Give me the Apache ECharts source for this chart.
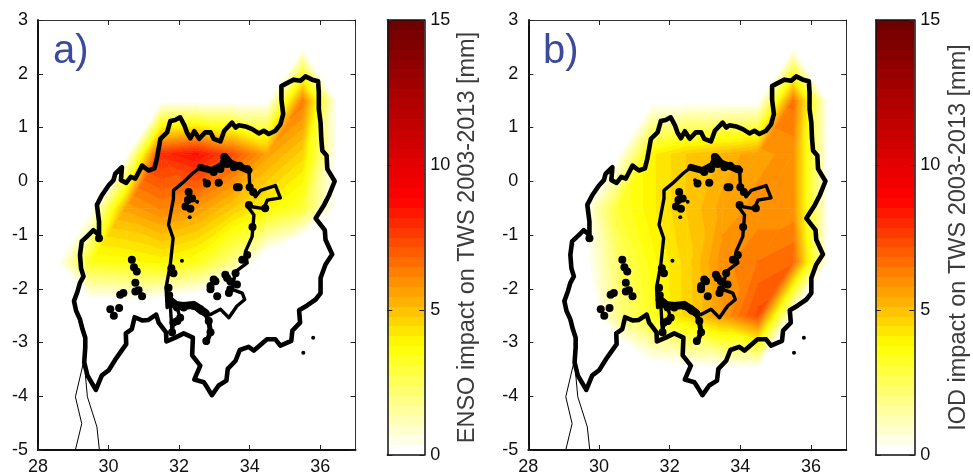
<!DOCTYPE html>
<html>
<head>
<meta charset="utf-8">
<style>html,body{margin:0;padding:0;background:#fff}#c{width:973px;height:476px}</style>
<script src="https://cdn.jsdelivr.net/npm/echarts@6/dist/echarts.min.js"></script>
</head>
<body>
<div id="c"></div>
<script>
// grid-cell centres of the fields
const lons = [28.5,29.5,30.5,31.5,32.5,33.5,34.5,35.5,36.5];
const lats = [2.5,1.5,0.5,-0.5,-1.5,-2.5,-3.5,-4.5];
// rows follow lats, columns follow lons (mm). Values below zero lie off the colour scale.
const ensoImpact = [
 [0,0,0,0,0,0,0,0,0],
 [0,0,0,0,0,0,0,6.4,0],
 [0,0,0,8,8.6,7.3,5.6,4.6,0],
 [0,0,5.6,6.2,5.8,4.8,3.9,3,0],
 [0,3.4,3.6,3.9,3.4,1.9,-0.8,-2.5,-1],
 [0,-1.2,-1.2,-1.7,-2,-2.5,-2.5,-2,-1],
 [0,0,0,0,0,0,0,0,0],
 [0,0,0,0,0,0,0,0,0]
];
const iodImpact = [
 [0,0,0,0,0,0,0,0,0],
 [0,0,0,0,0,0,0,6.6,0],
 [0,0,0,4,4.8,5.2,5.7,5.9,0],
 [0,0,3,4,4.8,5.6,5.9,5.9,0],
 [0,-0.3,2.2,3.6,4.6,6,6.5,6.8,0],
 [0,-1.4,1.8,3.3,4.6,5.8,7.3,0,0],
 [0,0,-2,-0.3,0,0,0,0,0],
 [0,0,0,0,0,0,0,0,0]
];
const basinOutline = [[29.64,-3.88],[29.4,-3.61],[29.31,-3.37],[29.34,-3.09],[29.34,-2.91],[29.26,-2.75],[29.19,-2.57],[29.08,-2.41],[29.02,-2.23],[29.12,-2.05],[29.19,-1.89],[29.29,-1.77],[29.22,-1.62],[29.19,-1.37],[29.24,-1.12],[29.4,-1.02],[29.57,-0.91],[29.73,-1],[29.73,-0.75],[29.67,-0.44],[29.81,-0.26],[30,-0.08],[30.14,0.02],[30.19,0.14],[30.38,0.26],[30.35,0.02],[30.5,-0.03],[30.63,0.08],[30.76,0.05],[30.95,0.29],[31.13,0.2],[31.3,0.24],[31.37,0.42],[31.47,0.79],[31.66,0.91],[31.75,1.12],[31.89,1.14],[32.03,1.19],[32.15,1.04],[32.22,0.91],[32.32,0.8],[32.43,0.93],[32.57,0.79],[32.74,0.91],[32.89,0.91],[32.98,0.79],[33.17,0.74],[33.28,0.94],[33.5,1.09],[33.6,1],[33.69,1.04],[33.88,1.02],[34.07,0.97],[34.26,0.89],[34.4,0.94],[34.54,0.88],[34.73,0.94],[34.87,1.06],[34.95,1.25],[34.9,1.52],[34.9,1.77],[35.07,1.83],[35.25,1.89],[35.44,1.87],[35.58,1.95],[35.77,1.89],[35.94,1.86],[35.96,1.65],[35.96,1.34],[36.01,1.09],[36.03,0.79],[36.06,0.57],[36.18,0.48],[36.2,0.23],[36.41,0],[36.25,-0.26],[36.11,-0.44],[35.87,-0.69],[36.13,-0.91],[36.15,-1.09],[36.34,-1.36],[36.15,-1.55],[36.01,-1.8],[36.01,-2.08],[35.87,-2.2],[35.63,-2.31],[35.4,-2.4],[35.43,-2.63],[35.21,-2.78],[35.18,-2.97],[34.87,-3.06],[34.73,-2.94],[34.49,-2.94],[34.31,-3.04],[34.12,-3.15],[33.97,-3.08],[33.72,-3.14],[33.6,-3.34],[33.38,-3.49],[33.34,-3.71],[33.12,-3.8],[32.93,-3.98],[32.79,-3.83],[32.7,-3.74],[32.43,-3.69],[32.6,-3.43],[32.37,-3.24],[32.39,-2.91],[32.13,-2.83],[31.89,-2.91],[31.64,-2.98],[31.63,-2.81],[31.42,-2.63],[31.35,-2.48],[31.13,-2.58],[30.95,-2.59],[30.74,-2.53],[30.66,-2.75],[30.49,-2.83],[30.5,-3.03],[30.23,-3.28],[30,-3.52],[29.81,-3.61],[29.64,-3.88]];
const lakeOutline = [[31.84,-0.17],[32.08,-0.04],[32.37,0.14],[32.6,0.26],[32.93,0.2],[33.22,0.32],[33.31,0.48],[33.45,0.36],[33.73,0.29],[33.98,0.23],[34,-0.08],[34.16,-0.29],[34.31,-0.17],[34.73,-0.08],[34.87,-0.31],[34.5,-0.35],[34.4,-0.51],[33.93,-0.46],[34.12,-0.63],[34.07,-1.03],[33.88,-1.31],[33.93,-1.52],[33.6,-1.68],[33.5,-2.01],[33.79,-2.08],[33.86,-2.2],[33.64,-2.32],[33.41,-2.54],[33.17,-2.38],[32.89,-2.48],[32.6,-2.45],[32.41,-2.32],[32.13,-2.35],[31.94,-2.35],[32.03,-2.54],[31.84,-2.63],[31.8,-2.85],[31.75,-2.29],[31.66,-2.35],[31.63,-1.98],[31.75,-1.55],[31.83,-1.06],[31.7,-0.81],[31.84,-0.32],[31.84,-0.17]];
const northShore = [[32.6,0.26],[32.93,0.2],[33.22,0.3],[33.31,0.45],[33.45,0.34],[33.73,0.27],[33.98,0.2]];
const southShore = [[31.72,-2.2],[31.9,-2.3],[32.13,-2.32],[32.41,-2.3],[32.6,-2.38],[32.75,-2.45]];
const gulfOutline = [[32.72,-2.42],[32.84,-2.6],[32.89,-2.81],[32.77,-3.0]];
const thinBorderA = [[29.29,-3.37],[29.06,-4.01],[29.24,-4.51],[29.06,-5]];
const thinBorderB = [[29.34,-3.58],[29.4,-4.01],[29.67,-4.57],[29.74,-5]];
const bigIslands = [[32.98,0.17],[33.17,0.23],[33.28,0.45],[33.36,0.32],[33.55,0.26],[33.12,-0.03],[32.79,-0.04],[33.69,-0.11],[32.27,-0.2],[32.37,-0.32],[32.18,-0.47],[32.32,-0.51],[32.25,-0.35],[33.71,0.29],[33.93,0.23],[33.64,-0.11],[34,-0.11],[34.1,-0.2],[34.44,-0.5],[33.98,-0.44],[34.08,-0.85],[33.93,-1.37],[33.79,-1.46],[33.6,-1.71],[31.84,-1.71],[31.78,-1.62],[31.7,-1.98],[31.75,-2.29],[31.72,-2.12],[31.94,-2.35],[32.13,-2.35],[31.84,-2.63],[32.03,-2.54],[31.8,-2.81],[31.95,-2.6],[32.41,-2.32],[32.6,-2.38],[32.84,-2.6],[32.89,-2.81],[32.77,-2.97],[32.98,-1.83],[33.03,-1.86],[32.89,-2.01],[32.89,-1.95],[33.08,-2.14],[33.36,-1.8],[33.31,-1.74],[33.45,-2.01],[33.41,-2.08],[33.45,-1.86],[33.64,-1.92],[30.66,-1.46],[30.8,-1.68],[30.72,-1.6],[30.76,-1.89],[30.76,-2.05],[30.85,-2.03],[30.95,-2.14],[30.33,-2.11],[30.42,-2.08],[30.3,-2.36],[30.05,-2.38],[30.15,-2.5],[29.73,-1.06]];
const smallIslands = [[32.51,-0.38],[32.3,-0.67],[32.72,0.02],[32.08,-1.48],[35.8,-2.91],[35.52,-3.19],[33.18,-0.03]];
// reversed "hot" colour scale
const scaleStops = [[0,[255,255,255]],[0.245,[255,255,0]],[0.59,[255,0,0]],[1,[112,0,0]]];
const bandCount = 44, scaleMax = 15;

function bandColor(i){
  const t = i/(bandCount-1);
  for(let k=1;k<scaleStops.length;k++){
    if(t<=scaleStops[k][0]){
      const a=scaleStops[k-1],b=scaleStops[k],f=(t-a[0])/(b[0]-a[0]);
      const c=a[1].map((v,j)=>Math.round(v+(b[1][j]-v)*f));
      return 'rgb('+c.join(',')+')';
    }
  }
  return 'rgb(112,0,0)';
}
const bandW = scaleMax/bandCount;
const bands = [];
for(let i=0;i<bandCount;i++) bands.push([i*bandW,(i+1)*bandW,i]);

// triangles of the gridded field
function triangles(rows){
  const out=[];
  for(let r=0;r<lats.length-1;r++)for(let c=0;c<lons.length-1;c++){
    const A=[lons[c],lats[r],rows[r][c]],B=[lons[c+1],lats[r],rows[r][c+1]],
          C=[lons[c],lats[r+1],rows[r+1][c]],D=[lons[c+1],lats[r+1],rows[r+1][c+1]];
    if(Math.abs(A[2]-D[2])<=Math.abs(B[2]-C[2])){
      out.push([...A,...B,...D]);out.push([...A,...C,...D]);
    }else{
      out.push([...B,...A,...C]);out.push([...B,...D,...C]);
    }
  }
  return out;
}
function clipBand(poly,level,keepAbove){
  const res=[];
  for(let i=0;i<poly.length;i++){
    const p=poly[i],q=poly[(i+1)%poly.length];
    const pin=keepAbove?p[2]>=level:p[2]<=level, qin=keepAbove?q[2]>=level:q[2]<=level;
    if(pin)res.push(p);
    if(pin!==qin){
      const f=(level-p[2])/(q[2]-p[2]);
      res.push([p[0]+(q[0]-p[0])*f,p[1]+(q[1]-p[1])*f,level]);
    }
  }
  return res;
}
function renderTriangle(params,api){
  const tri=[[api.value(0),api.value(1),api.value(2)],[api.value(3),api.value(4),api.value(5)],[api.value(6),api.value(7),api.value(8)]];
  const children=[];
  for(let i=1;i<bandCount;i++){
    let poly=clipBand(tri,bands[i][0],true);
    if(poly.length<3)continue;
    if(i<bandCount-1)poly=clipBand(poly,bands[i][1],false);
    if(poly.length<3)continue;
    const col=bandColor(i);
    children.push({type:'polygon',shape:{points:poly.map(p=>api.coord([p[0],p[1]]))},
      style:{fill:col,stroke:col,lineWidth:0.6}});
  }
  return {type:'group',children};
}
function renderBand(params,api){
  const a=api.coord([0,api.value(0)]),b=api.coord([1,api.value(1)]);
  const y0=Math.round(b[1]),y1=Math.round(a[1]);
  return {type:'rect',shape:{x:a[0],y:y0,width:b[0]-a[0],height:y1-y0},style:{fill:bandColor(api.value(2))}};
}

const font='"Liberation Sans", Arial, sans-serif';
const strong={onZero:false,lineStyle:{color:'#111',width:2}};
const weak={onZero:false,lineStyle:{color:'#333',width:1}};
const tick={inside:true,length:5,lineStyle:{color:'#222',width:1}};
const grids=[],xAxes=[],yAxes=[],series=[];

function addMap(left,width,rows){
  const g=grids.length;
  grids.push({left,top:20,width,height:434});
  const xi=xAxes.length,yi=yAxes.length;
  const xBase={type:'value',gridIndex:g,min:28,max:37,interval:2,splitLine:{show:false},z:10};
  const yBase={type:'value',gridIndex:g,min:-5,max:3,interval:1,splitLine:{show:false},z:10};
  xAxes.push({...xBase,position:'bottom',axisLine:strong,axisTick:tick,
    axisLabel:{show:true,showMaxLabel:false,color:'#111',fontFamily:font,fontSize:18,margin:8}});
  xAxes.push({...xBase,position:'top',axisLine:weak,axisTick:tick,axisLabel:{show:false}});
  yAxes.push({...yBase,position:'left',axisLine:strong,axisTick:tick,
    axisLabel:{show:true,color:'#111',fontFamily:font,fontSize:18,margin:10}});
  yAxes.push({...yBase,position:'right',axisLine:weak,axisTick:tick,axisLabel:{show:false}});
  const ax={xAxisIndex:xi,yAxisIndex:yi};
  series.push({type:'custom',...ax,renderItem:renderTriangle,data:triangles(rows),
    encode:{x:[0,3,6],y:[1,4,7]},silent:true,animation:false,z:1,clip:true});
  const line=(data,w)=>({type:'line',...ax,data,symbol:'none',silent:true,animation:false,z:3,
    lineStyle:{color:'#000',width:w,join:'round',cap:'round',opacity:1}});
  series.push(line(basinOutline,4.6));
  series.push(line(lakeOutline,3.4));
  series.push(line(northShore,7));
  series.push(line(southShore,8));
  series.push(line(gulfOutline,5));
  series.push(line(thinBorderA,1));
  series.push(line(thinBorderB,1));
  const dots=(data,s)=>({type:'scatter',...ax,data,symbolSize:s,itemStyle:{color:'#000',opacity:1},silent:true,animation:false,z:4});
  series.push(dots(bigIslands,8));
  series.push(dots(smallIslands,4));
}
function addBar(left,width,label,gap){
  const g=grids.length;
  grids.push({left,top:20,width,height:435});
  const xi=xAxes.length,yi=yAxes.length;
  const xBase={type:'value',gridIndex:g,min:0,max:1,splitLine:{show:false},axisTick:{show:false},axisLabel:{show:false},z:10};
  const yBase={type:'value',gridIndex:g,min:0,max:15,interval:5,splitLine:{show:false},z:10};
  const frame={onZero:false,lineStyle:{color:'#111',width:1.5}};
  xAxes.push({...xBase,position:'bottom',axisLine:frame});
  xAxes.push({...xBase,position:'top',axisLine:frame});
  yAxes.push({...yBase,position:'right',axisLine:frame,axisTick:tick,
    axisLabel:{show:true,color:'#111',fontFamily:font,fontSize:18,margin:6},
    name:label,nameLocation:'middle',nameRotate:90,nameGap:gap,
    nameTextStyle:{color:'#3c3c3c',fontFamily:font,fontSize:23.5}});
  yAxes.push({...yBase,position:'left',axisLine:frame,axisTick:tick,axisLabel:{show:false}});
  series.push({type:'custom',xAxisIndex:xi,yAxisIndex:yi,renderItem:renderBand,data:bands,
    encode:{y:[0,1]},silent:true,animation:false,z:1,clip:true});
}

addMap(38,317.5,ensoImpact);
addMap(528.3,318,iodImpact);
addBar(387.3,37,'ENSO impact on TWS 2003-2013 [mm]',31);
addBar(875.8,38.5,'IOD impact on TWS 2003-2013 [mm]',32);

const chart=echarts.init(document.getElementById('c'),null,{renderer:'canvas'});
chart.setOption({
  animation:false,backgroundColor:'#fff',
  grid:grids,xAxis:xAxes,yAxis:yAxes,series,
  graphic:[
    {type:'text',left:53,top:32,z:20,style:{text:'a)',fill:'#3B4A9E',font:'40px '+font}},
    {type:'text',left:543,top:32,z:20,style:{text:'b)',fill:'#3B4A9E',font:'40px '+font}}
  ]
});
</script>
</body>
</html>
